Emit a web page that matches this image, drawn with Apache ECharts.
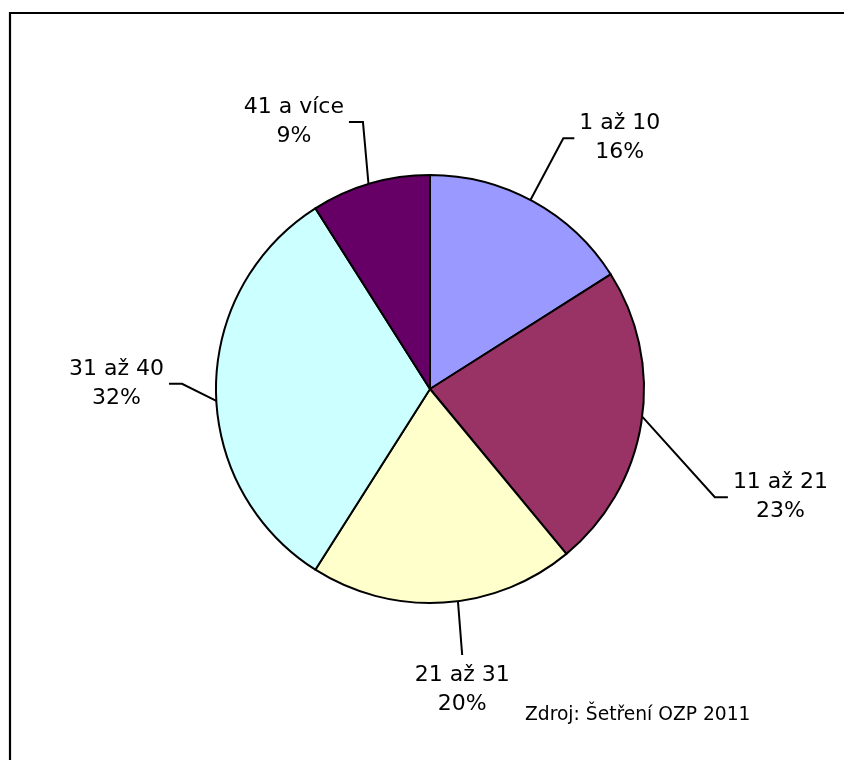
<!DOCTYPE html>
<html>
<head>
<meta charset="utf-8">
<style>
  html, body { margin: 0; padding: 0; background: #fff; }
  #chart { width: 844px; height: 760px; }
</style>
<script src="https://cdn.jsdelivr.net/npm/echarts@6/dist/echarts.min.js"></script>
</head>
<body>
<div id="chart"></div>
<script>
// Age groups and their shares (%)
const categories = ['1 až 10', '11 až 21', '21 až 31', '31 až 40', '41 a více'];
const shares = [16, 23, 20, 32, 9];
const sliceColors = ['#9999FF', '#993366', '#FFFFCC', '#CCFFFF', '#660066'];
const sourceNote = 'Zdroj: Šetření OZP 2011';

// Pie geometry (pixels)
const PIE = { cx: 430, cy: 389, r: 214 };
const FONT = '"DejaVu Sans", Verdana, sans-serif';

// Leader lines: where each one leaves the rim (deg clockwise from 12 o'clock),
// where it bends (angle + radius factor), the horizontal tail and label side.
const leaders = [
  { start: 28,    bend: 28,    reach: 1.327, tail: 11, side: 'right' },
  { start: 97.4,  bend: 110.8, reach: 1.424, tail: 13, side: 'right' },
  { start: 172.5, bend: 173.1, reach: 1.252, tail: 0,  side: 'below' },
  { start: 266.8, bend: 271.2, reach: 1.159, tail: 13, side: 'left' },
  { start: 343.3, bend: 345.9, reach: 1.286, tail: 14, side: 'left' }
];

function polar(angleDeg, radius) {
  const a = angleDeg * Math.PI / 180;
  return [PIE.cx + radius * Math.sin(a), PIE.cy - radius * Math.cos(a)];
}

const chart = echarts.init(document.getElementById('chart'), null, { renderer: 'canvas' });

chart.setOption({
  animation: false,
  backgroundColor: '#ffffff',
  graphic: [{
    type: 'rect',
    shape: { x: 10, y: 13, width: 900, height: 800 },
    style: { fill: 'none', stroke: '#000', lineWidth: 2.2 },
    silent: true
  }],
  title: {
    text: sourceNote,
    left: 525,
    top: 706,
    padding: 0,
    textStyle: { fontFamily: FONT, fontSize: 18.7, fontWeight: 'normal', color: '#000' }
  },
  series: [{
    type: 'pie',
    center: [PIE.cx, PIE.cy],
    radius: PIE.r,
    startAngle: 90,
    clockwise: true,
    avoidLabelOverlap: false,
    data: categories.map((name, i) => ({
      name: name,
      value: shares[i],
      itemStyle: { color: sliceColors[i] }
    })),
    itemStyle: { borderColor: '#000', borderWidth: 2 },
    emphasis: { disabled: true },
    label: {
      show: true,
      position: 'outside',
      formatter: '{b}\n{c}%',
      fontFamily: FONT,
      fontSize: 22,
      lineHeight: 29,
      color: '#000',
      align: 'center'
    },
    labelLine: {
      show: true,
      length: 20,
      length2: 10,
      lineStyle: { color: '#000', width: 2 }
    },
    labelLayout: function (params) {
      const L = leaders[params.dataIndex];
      const w = params.labelRect.width;
      const p0 = polar(L.start, PIE.r);
      const p1 = polar(L.bend, PIE.r * L.reach);
      const gap = 5;
      if (L.side === 'below') {
        return {
          x: p1[0], y: p1[1] + 6,
          align: 'center', verticalAlign: 'top',
          labelLinePoints: [p0, p1, p1]
        };
      }
      const dir = L.side === 'right' ? 1 : -1;
      const p2 = [p1[0] + dir * L.tail, p1[1]];
      return {
        x: p2[0] + dir * (gap + w / 2),
        y: p2[1],
        align: 'center', verticalAlign: 'middle',
        labelLinePoints: [p0, p1, p2]
      };
    }
  }]
});
</script>
</body>
</html>
